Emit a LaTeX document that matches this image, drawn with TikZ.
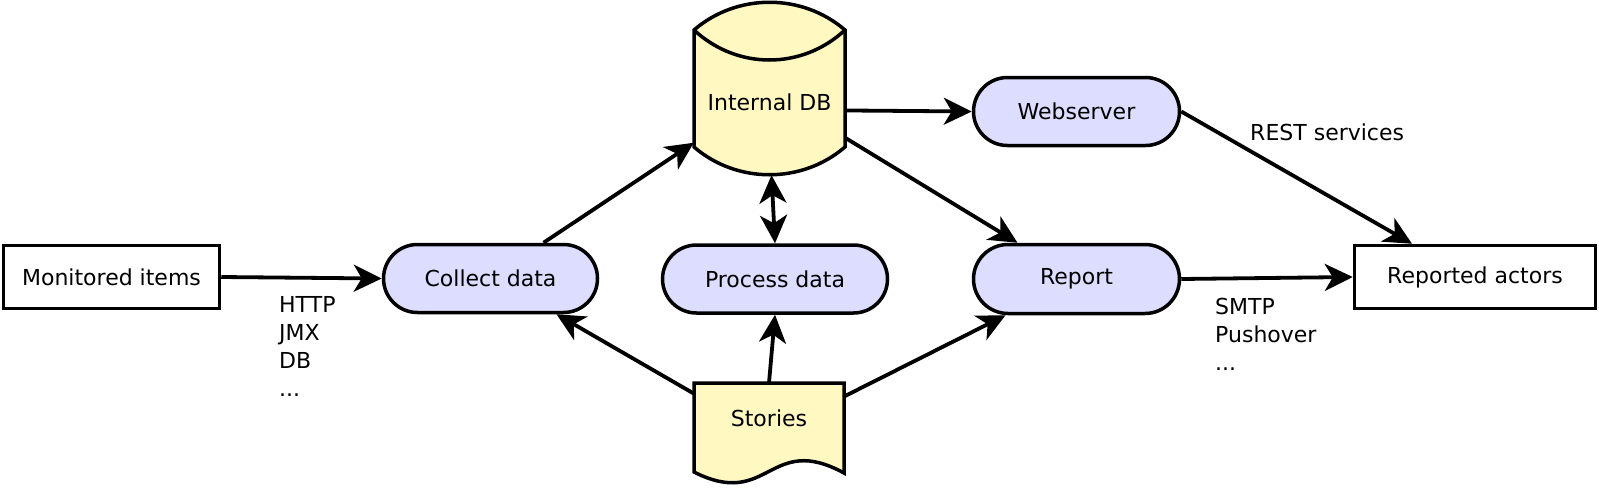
\documentclass[tikz,border=0pt]{standalone}
\usepackage{fontspec}
\setmainfont{DejaVu Sans}
\usetikzlibrary{arrows.meta,shapes.misc,calc}
\definecolor{procfill}{HTML}{DDDDFF}
\definecolor{dbfill}{HTML}{FFF8C0}
\begin{document}
\begin{tikzpicture}[x=1pt,y=-1pt,
  every node/.style={font=\fontsize{22}{28}\selectfont},
  box/.style={draw, line width=3.5pt, fill=white, inner sep=0pt},
  proc/.style={rounded rectangle, draw, line width=3.5pt, fill=procfill, inner sep=0pt},
  conn/.style={line width=3.8pt, -{Stealth[length=28pt,width=27pt,inset=8pt]}},
  dconn/.style={line width=3.8pt, {Stealth[length=28pt,width=27pt,inset=8pt]}-{Stealth[length=28pt,width=27pt,inset=8pt]}},
  shapeline/.style={line width=3.5pt, fill=dbfill, line join=miter},
  lbl/.style={inner sep=0pt, align=left}]

\useasboundingbox (0,0) rectangle (1599,488);

% database cylinder
\draw[shapeline] (694,30) .. controls (737,-7) and (802,-7) .. (845,30) -- (845,147)
  .. controls (802,184) and (737,184) .. (694,147) -- cycle;
\draw[line width=3.5pt] (694,30) .. controls (737,70) and (802,70) .. (845,30);
% document shape
\draw[shapeline] (694,383) -- (844,383) -- (844,473)
  .. controls (769,432) and (769,510) .. (694,472) -- cycle;

\node[minimum width=151pt, minimum height=145pt, inner sep=0pt] (db) at (769.5,102.5) {Internal DB};
\node[minimum width=150pt, minimum height=70pt, inner sep=0pt] (stories) at (769,418) {Stories};

\node[box, minimum width=216pt, minimum height=63pt] (mon) at (111.5,277) {Monitored items};
\node[proc, minimum width=214pt, minimum height=68pt] (collect) at (490.5,278.5) {Collect data};
\node[proc, minimum width=225pt, minimum height=68pt] (process) at (775,279) {Process data};
\node[proc, minimum width=206pt, minimum height=68pt] (web) at (1076.5,111.5) {Webserver};
\node[proc, minimum width=206pt, minimum height=69pt] (report) at (1076.5,279) {Report};
\node[box, minimum width=241pt, minimum height=63pt] (actors) at (1475,277) {Reported actors};

\draw[conn] (mon.east) -- (collect.west);
\draw[conn] ([xshift=53pt]collect.north) -- (db.208);
\draw[conn] (stories.162) -- ([xshift=66pt]collect.south);
\draw[conn] (stories.north) -- (process.south);
\draw[dconn] ([xshift=2pt]db.south) -- (process.north);
\draw[conn] (db.-6) -- (web.west);
\draw[conn] (db.-25) -- ([xshift=-59pt]report.north);
\draw[conn] (stories.16) -- ([xshift=-71pt]report.south);
\draw[conn] (web.east) -- ([xshift=-63pt]actors.north);
\draw[conn] (report.east) -- (actors.west);

\node[lbl, anchor=north west] (lproto) at (279,296.5) {HTTP\\JMX\\DB\\...};
\node[lbl, anchor=base west] (lrest) at (1250,140.7) {REST services};
\node[lbl, anchor=north west] (lsend) at (1215,298.3) {SMTP\\Pushover\\...};
\end{tikzpicture}
\end{document}
